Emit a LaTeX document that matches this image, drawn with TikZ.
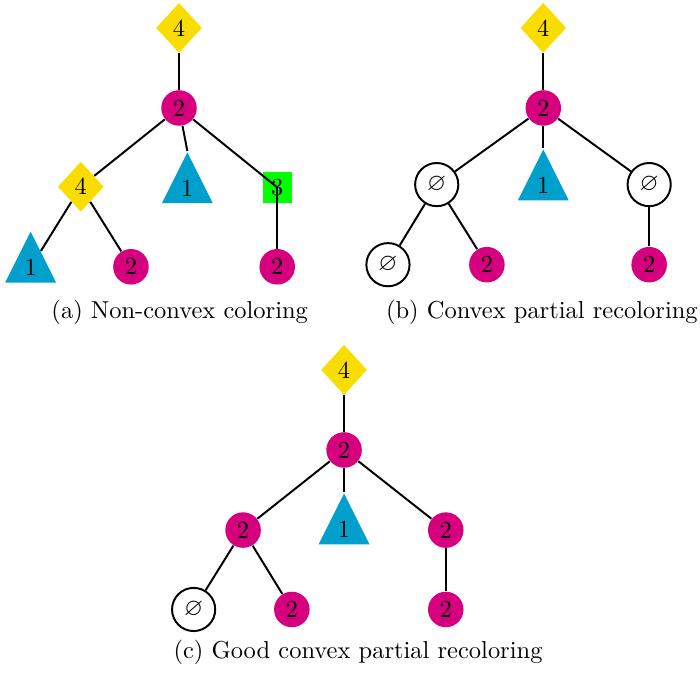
\documentclass[tikz,border=0pt]{standalone}
\usepackage{amsmath,amssymb}
\usepackage{xcolor,tikz}
\usetikzlibrary{shapes.geometric}
\definecolor{cyel}{HTML}{F9DD00}
\definecolor{cmag}{HTML}{D6007F}
\definecolor{ccya}{HTML}{009FCC}
\definecolor{cgrn}{HTML}{00FF00}
\tikzset{vx/.style={inner sep=0pt,font=\normalsize},
 dia/.style={vx,diamond,fill=cyel,minimum width=6.6mm,minimum height=7.2mm},
 pk/.style={vx,circle,fill=cmag,minimum size=5.1mm},
 tri/.style={vx,isosceles triangle,isosceles triangle stretches,shape border rotate=90,
  fill=ccya,minimum width=7.3mm,minimum height=7.3mm},
 sq/.style={vx,rectangle,fill=cgrn,minimum width=4.2mm,minimum height=4.4mm},
 emp/.style={vx,circle,draw,thick,fill=white,minimum size=6.2mm},
 ed/.style={thick,draw=black},
 capt/.style={align=center}}

\begin{document}
\begin{tikzpicture}
\useasboundingbox (0,0) rectangle (10.05,-9.72);
% (a) non-convex
\node[dia] (ar) at (2.57,-0.40) {4};
\node[pk] (am) at (2.57,-1.55) {2};
\node[dia] (al) at (1.16,-2.68) {4};
\node[tri] (at) at (2.69,-2.70) {1};
\node[sq] (as) at (3.98,-2.69) {3};
\node[tri] (all) at (0.44,-3.84) {1};
\node[pk] (alr) at (1.88,-3.83) {2};
\node[pk] (asl) at (3.98,-3.83) {2};
\draw[ed] (ar)--(am);
\draw[ed] (am)--(al);
\draw[ed] (am)--(at.apex);
\draw[ed] (am)--(as.center);
\draw[ed] (al)--(all);
\draw[ed] (al)--(alr);
\draw[ed] (as.center)--(asl);
\node[capt] (acap) at (2.58,-4.49) {(a) Non-convex coloring};
% (b) convex partial
\node[dia] (br) at (7.80,-0.40) {4};
\node[pk] (bm) at (7.80,-1.55) {2};
\node[emp] (bl) at (6.27,-2.65) {$\varnothing$};
\node[tri] (bt) at (7.80,-2.66) {1};
\node[emp] (bs) at (9.32,-2.65) {$\varnothing$};
\node[emp] (bll) at (5.57,-3.80) {$\varnothing$};
\node[pk] (blr) at (6.99,-3.80) {2};
\node[pk] (bsl) at (9.32,-3.80) {2};
\draw[ed] (br)--(bm);
\draw[ed] (bm)--(bl);
\draw[ed] (bm)--(bt.apex);
\draw[ed] (bm)--(bs);
\draw[ed] (bl)--(bll);
\draw[ed] (bl)--(blr);
\draw[ed] (bs)--(bsl);
\node[capt] (bcap) at (7.78,-4.49) {(b) Convex partial recoloring};
% (c) good convex partial
\node[dia] (cr) at (4.94,-5.31) {4};
\node[pk] (cm) at (4.94,-6.46) {2};
\node[pk] (cl) at (3.49,-7.61) {2};
\node[tri] (ct) at (4.94,-7.60) {1};
\node[pk] (cs) at (6.40,-7.61) {2};
\node[emp] (cll) at (2.78,-8.75) {$\varnothing$};
\node[pk] (clr) at (4.19,-8.75) {2};
\node[pk] (csl) at (6.40,-8.75) {2};
\draw[ed] (cr)--(cm);
\draw[ed] (cm)--(cl);
\draw[ed] (cm)--(ct.apex);
\draw[ed] (cm)--(cs);
\draw[ed] (cl)--(cll);
\draw[ed] (cl)--(clr);
\draw[ed] (cs)--(csl);
\node[capt] (ccap) at (5.14,-9.36) {(c) Good convex partial recoloring};
\end{tikzpicture}
\end{document}
